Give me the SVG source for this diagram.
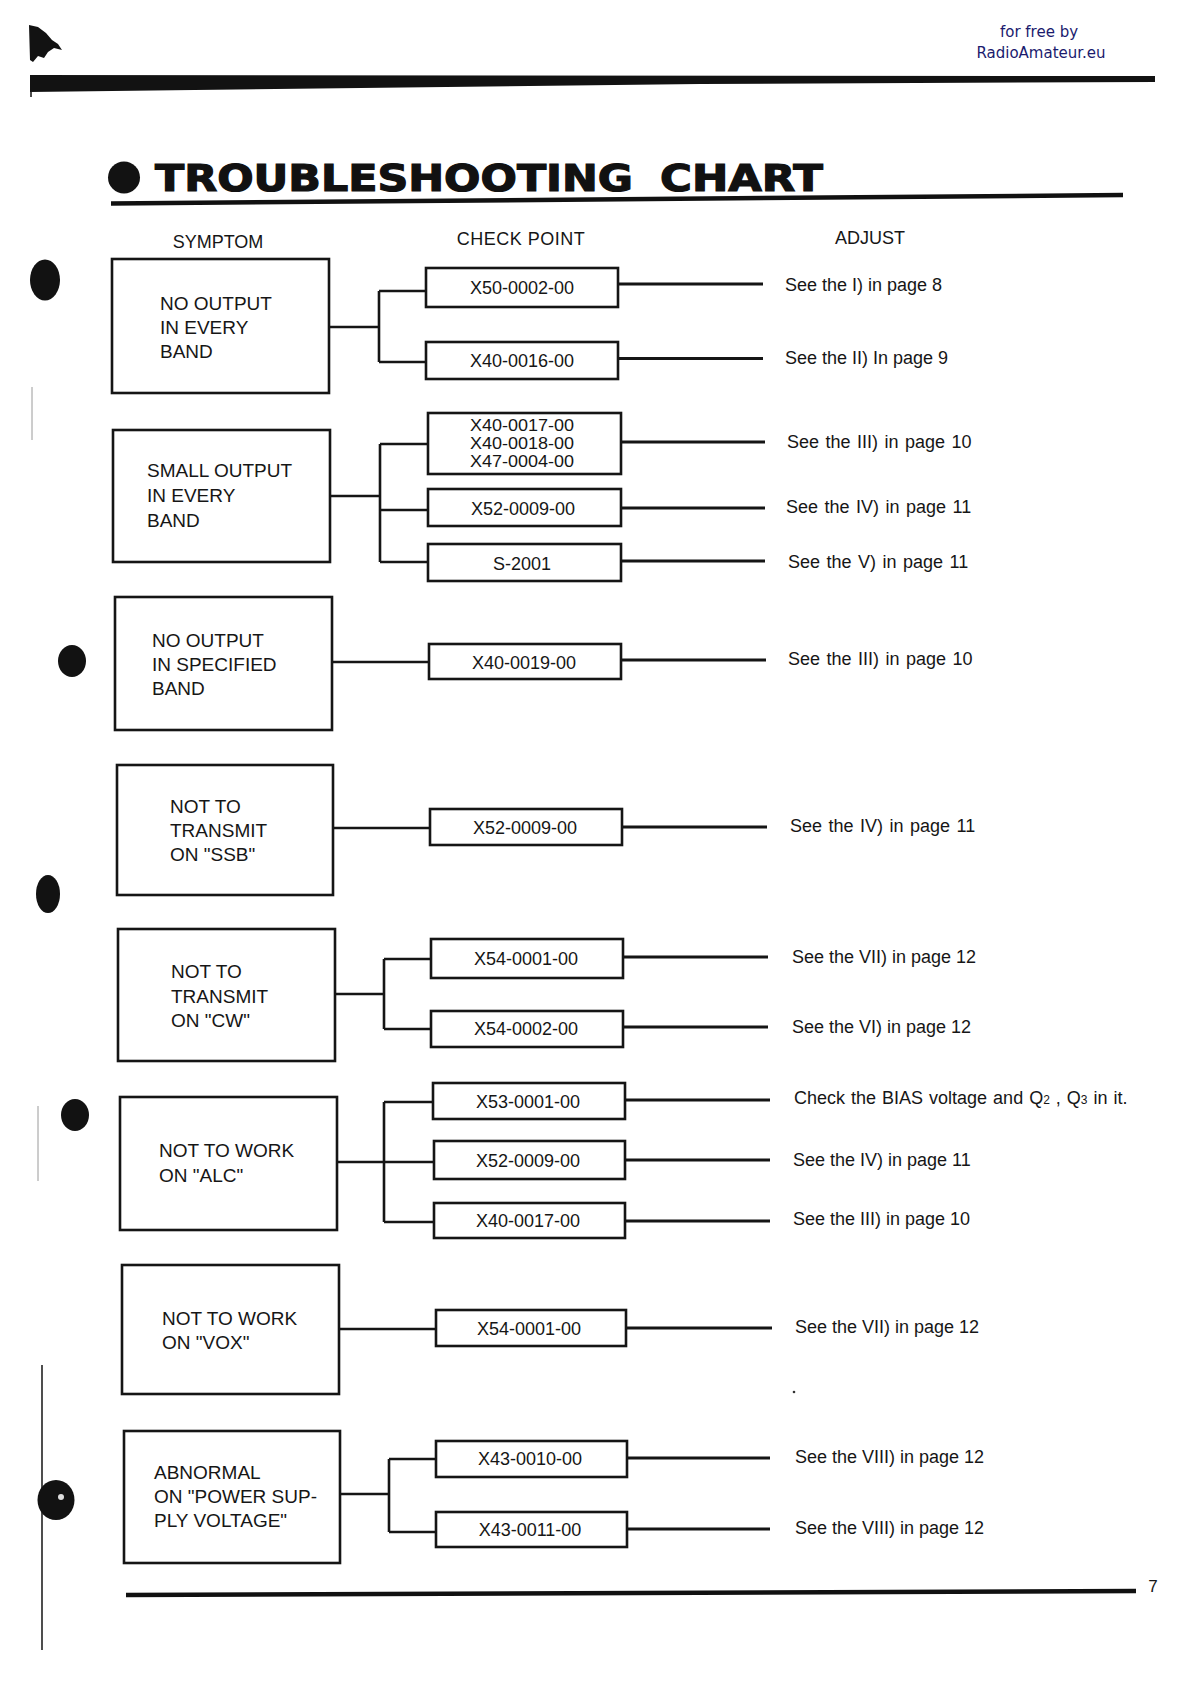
<svg xmlns="http://www.w3.org/2000/svg" width="1190" height="1684" viewBox="0 0 1190 1684">
<style>
  .bg{fill:#ffffff}
  .box{fill:none;stroke:#151515;stroke-width:2.6}
  .cp{fill:none;stroke:#151515;stroke-width:2.6}
  .conn{fill:none;stroke:#151515;stroke-width:2.6}
  .adjl{fill:none;stroke:#151515;stroke-width:3}
  .t{font-family:"Liberation Sans",Arial,sans-serif;fill:#161616}
  .sym{font-size:19px}
  .cpt{font-size:18px;text-anchor:middle}
  .cps{font-size:16px;text-anchor:middle}
  .adj{font-size:18px}
  .hdr{font-size:18px;text-anchor:middle}
  .title{font-family:"DejaVu Sans","Liberation Sans",sans-serif;font-weight:bold;font-size:37px;fill:#111;stroke:#111;stroke-width:1.2}
  .ink{fill:#121212}
  .wm{font-family:"DejaVu Sans",sans-serif;font-size:15px;fill:#1b1b6e;text-anchor:middle}
  .faint{stroke:#9a9a9a;stroke-width:1;fill:none}
</style>
<rect class="bg" x="0" y="0" width="1190" height="1684"/>

<g id="page-decor">
  <polygon class="ink" points="29,25 38,27 46,33 52,40 58,44 62,50 54,48 48,52 44,58 38,56 33,62 30,60"/>
  <polygon class="ink" points="30,75 1155,76 1155,82 700,84 30,92"/>
  <line x1="31" y1="92" x2="31" y2="97" stroke="#111" stroke-width="1.5"/>
  <text class="wm" x="1039" y="37">for free by</text>
  <text class="wm" x="1041" y="58">RadioAmateur.eu</text>
  <ellipse class="ink" cx="124" cy="177.5" rx="16" ry="16"/>
  <text class="title" x="155" y="191" textLength="478" lengthAdjust="spacingAndGlyphs">TROUBLESHOOTING</text>
  <text class="title" x="660" y="191" textLength="163" lengthAdjust="spacingAndGlyphs">CHART</text>
  <line x1="111" y1="203.5" x2="1123" y2="195" stroke="#111" stroke-width="4.5"/>
  <ellipse class="ink" cx="45" cy="280" rx="15" ry="20.5"/>
  <ellipse class="ink" cx="72" cy="661" rx="14" ry="16"/>
  <ellipse class="ink" cx="48" cy="894" rx="12" ry="19"/>
  <ellipse class="ink" cx="75" cy="1115" rx="14" ry="16"/>
  <line class="faint" x1="32" y1="387" x2="32" y2="440"/>
  <line class="faint" x1="38" y1="1106" x2="38" y2="1181"/>
  <line x1="42" y1="1365" x2="42" y2="1650" stroke="#222" stroke-width="1.6"/>
  <ellipse class="ink" cx="56" cy="1500" rx="18.5" ry="20"/>
  <circle cx="61" cy="1497" r="3" fill="#ddd"/>
  <line x1="126" y1="1595" x2="1136" y2="1591" stroke="#111" stroke-width="4.5"/>
  <text class="t" x="1153" y="1592" font-size="17" text-anchor="middle">7</text>
  <circle cx="794" cy="1392" r="1.3" fill="#333"/>
</g>

<g id="headers">
  <text class="t hdr" x="218" y="248">SYMPTOM</text>
  <text class="t hdr" x="521" y="245" letter-spacing="0.5">CHECK POINT</text>
  <text class="t hdr" x="870" y="244">ADJUST</text>
</g>

<g id="connectors">
  <path class="conn" d="M329,327 H379 M379,291 V362 M379,291 H426 M379,362 H426"/>
  <path class="adjl" d="M618,284 H763 M618,358.5 H763"/>
  <path class="conn" d="M330,496 H380 M380,444 V562 M380,444 H428 M380,510 H428 M380,562 H428"/>
  <path class="adjl" d="M621,442 H765 M621,508 H765 M621,561 H765"/>
  <path class="conn" d="M332,662 H429"/>
  <path class="adjl" d="M621,660 H766"/>
  <path class="conn" d="M333,828 H430"/>
  <path class="adjl" d="M622,827 H767"/>
  <path class="conn" d="M335,994 H384 M384,959 V1029 M384,959 H431 M384,1029 H431"/>
  <path class="adjl" d="M623,957 H768 M623,1027 H768"/>
  <path class="conn" d="M337,1162 H434 M384,1102 V1222 M384,1102 H433 M384,1222 H434"/>
  <path class="adjl" d="M625,1100 H770 M625,1160 H770 M625,1221 H770"/>
  <path class="conn" d="M339,1329 H436"/>
  <path class="adjl" d="M626,1328 H772"/>
  <path class="conn" d="M340,1494 H389 M389,1459 V1532 M389,1459 H436 M389,1532 H436"/>
  <path class="adjl" d="M627,1458 H770 M627,1529 H770"/>
</g>

<!-- Row 1 -->
<g id="sym1"><rect class="box" x="112" y="259" width="217" height="134"/>
  <text class="t sym" x="160" y="310">NO OUTPUT</text><text class="t sym" x="160" y="334">IN EVERY</text><text class="t sym" x="160" y="358">BAND</text></g>
<g id="cp1a"><rect class="cp" x="426" y="268" width="192" height="39"/><text class="t cpt" x="522" y="294">X50-0002-00</text></g>
<g id="cp1b"><rect class="cp" x="426" y="342" width="192" height="37"/><text class="t cpt" x="522" y="367">X40-0016-00</text></g>
<g id="adj1a"><text class="t adj" x="785" y="291">See the I) in page 8</text></g>
<g id="adj1b"><text class="t adj" x="785" y="364">See the II) In page 9</text></g>

<!-- Row 2 -->
<g id="sym2"><rect class="box" x="113" y="430" width="217" height="132"/>
  <text class="t sym" x="147" y="477">SMALL OUTPUT</text><text class="t sym" x="147" y="502">IN EVERY</text><text class="t sym" x="147" y="527">BAND</text></g>
<g id="cp2a"><rect class="cp" x="428" y="413" width="193" height="61"/>
  <text class="t cps" x="522" y="431" textLength="104" lengthAdjust="spacingAndGlyphs">X40-0017-00</text>
  <text class="t cps" x="522" y="449" textLength="104" lengthAdjust="spacingAndGlyphs">X40-0018-00</text>
  <text class="t cps" x="522" y="467" textLength="104" lengthAdjust="spacingAndGlyphs">X47-0004-00</text></g>
<g id="cp2b"><rect class="cp" x="428" y="489" width="193" height="37"/><text class="t cpt" x="523" y="515">X52-0009-00</text></g>
<g id="cp2c"><rect class="cp" x="428" y="544" width="193" height="37"/><text class="t cpt" x="522" y="570">S-2001</text></g>
<g id="adj2a"><text class="t adj" x="787" y="448" word-spacing="1.5">See the III) in page 10</text></g>
<g id="adj2b"><text class="t adj" x="786" y="513" word-spacing="1.5">See the IV) in page 11</text></g>
<g id="adj2c"><text class="t adj" x="788" y="568" word-spacing="1.5">See the V) in page 11</text></g>

<!-- Row 3 -->
<g id="sym3"><rect class="box" x="115" y="597" width="217" height="133"/>
  <text class="t sym" x="152" y="647">NO OUTPUT</text><text class="t sym" x="152" y="671">IN SPECIFIED</text><text class="t sym" x="152" y="695">BAND</text></g>
<g id="cp3"><rect class="cp" x="429" y="644" width="192" height="35"/><text class="t cpt" x="524" y="669">X40-0019-00</text></g>
<g id="adj3"><text class="t adj" x="788" y="665" word-spacing="1.5">See the III) in page 10</text></g>

<!-- Row 4 -->
<g id="sym4"><rect class="box" x="117" y="765" width="216" height="130"/>
  <text class="t sym" x="170" y="813">NOT TO</text><text class="t sym" x="170" y="837">TRANSMIT</text><text class="t sym" x="170" y="861">ON "SSB"</text></g>
<g id="cp4"><rect class="cp" x="430" y="809" width="192" height="36"/><text class="t cpt" x="525" y="834">X52-0009-00</text></g>
<g id="adj4"><text class="t adj" x="790" y="832" word-spacing="1.5">See the IV) in page 11</text></g>

<!-- Row 5 -->
<g id="sym5"><rect class="box" x="118" y="929" width="217" height="132"/>
  <text class="t sym" x="171" y="978">NOT TO</text><text class="t sym" x="171" y="1003">TRANSMIT</text><text class="t sym" x="171" y="1027">ON "CW"</text></g>
<g id="cp5a"><rect class="cp" x="431" y="939" width="192" height="39"/><text class="t cpt" x="526" y="965">X54-0001-00</text></g>
<g id="cp5b"><rect class="cp" x="431" y="1011" width="192" height="36"/><text class="t cpt" x="526" y="1035">X54-0002-00</text></g>
<g id="adj5a"><text class="t adj" x="792" y="963">See the VII) in page 12</text></g>
<g id="adj5b"><text class="t adj" x="792" y="1033">See the VI) in page 12</text></g>

<!-- Row 6 -->
<g id="sym6"><rect class="box" x="120" y="1097" width="217" height="133"/>
  <text class="t sym" x="159" y="1157">NOT TO WORK</text><text class="t sym" x="159" y="1182">ON "ALC"</text></g>
<g id="cp6a"><rect class="cp" x="433" y="1083" width="192" height="36"/><text class="t cpt" x="528" y="1108">X53-0001-00</text></g>
<g id="cp6b"><rect class="cp" x="434" y="1141" width="191" height="38"/><text class="t cpt" x="528" y="1167">X52-0009-00</text></g>
<g id="cp6c"><rect class="cp" x="434" y="1203" width="191" height="35"/><text class="t cpt" x="528" y="1227">X40-0017-00</text></g>
<g id="adj6a"><text class="t adj" x="794" y="1104" word-spacing="1">Check the BIAS voltage and Q<tspan font-size="12">2</tspan> , Q<tspan font-size="12">3</tspan> in it.</text></g>
<g id="adj6b"><text class="t adj" x="793" y="1166">See the IV) in page 11</text></g>
<g id="adj6c"><text class="t adj" x="793" y="1225">See the III) in page 10</text></g>

<!-- Row 7 -->
<g id="sym7"><rect class="box" x="122" y="1265" width="217" height="129"/>
  <text class="t sym" x="162" y="1325">NOT TO WORK</text><text class="t sym" x="162" y="1349">ON "VOX"</text></g>
<g id="cp7"><rect class="cp" x="436" y="1310" width="190" height="36"/><text class="t cpt" x="529" y="1335">X54-0001-00</text></g>
<g id="adj7"><text class="t adj" x="795" y="1333">See the VII) in page 12</text></g>

<!-- Row 8 -->
<g id="sym8"><rect class="box" x="124" y="1431" width="216" height="132"/>
  <text class="t sym" x="154" y="1479">ABNORMAL</text><text class="t sym" x="154" y="1503">ON "POWER SUP-</text><text class="t sym" x="154" y="1527">PLY VOLTAGE"</text></g>
<g id="cp8a"><rect class="cp" x="436" y="1441" width="191" height="36"/><text class="t cpt" x="530" y="1465">X43-0010-00</text></g>
<g id="cp8b"><rect class="cp" x="436" y="1512" width="191" height="35"/><text class="t cpt" x="530" y="1536">X43-0011-00</text></g>
<g id="adj8a"><text class="t adj" x="795" y="1463">See the VIII) in page 12</text></g>
<g id="adj8b"><text class="t adj" x="795" y="1534">See the VIII) in page 12</text></g>
</svg>
